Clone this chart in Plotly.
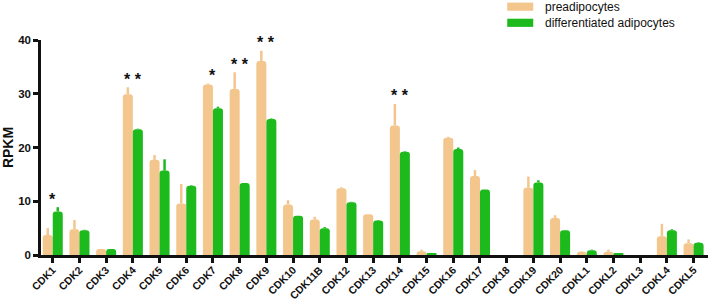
import plotly.graph_objects as go

categories = ["CDK1","CDK2","CDK3","CDK4","CDK5","CDK6","CDK7","CDK8","CDK9","CDK10",
              "CDK11B","CDK12","CDK13","CDK14","CDK15","CDK16","CDK17","CDK18","CDK19","CDK20",
              "CDKL1","CDKL2","CDKL3","CDKL4","CDKL5"]
pre_values = [3.7, 4.8, 1.1, 29.9, 17.7, 9.6, 31.7, 30.9, 36.1, 9.4,
              6.6, 12.4, 7.6, 24.1, 0.7, 21.8, 14.7, 0.0, 12.5, 6.9,
              0.6, 0.6, 0.0, 3.5, 2.2]
pre_errors = [1.3, 1.7, 0.0, 1.3, 0.9, 3.6, 0.2, 3.1, 1.9, 0.8,
              0.5, 0.2, 0.0, 4.0, 0.3, 0.2, 1.1, 0.0, 2.1, 0.5,
              0.1, 0.4, 0.0, 2.3, 0.7]
diff_values = [8.1, 4.6, 1.1, 23.4, 15.7, 12.9, 27.3, 13.4, 25.3, 7.3,
               5.0, 9.8, 6.4, 19.2, 0.2, 19.7, 12.2, 0.0, 13.5, 4.6,
               0.9, 0.3, 0.0, 4.6, 2.3]
diff_errors = [0.8, 0.1, 0.0, 0.1, 2.1, 0.1, 0.3, 0.0, 0.1, 0.0,
               0.2, 0.1, 0.1, 0.1, 0.0, 0.3, 0.0, 0.0, 0.4, 0.0,
               0.1, 0.0, 0.0, 0.2, 0.1]
stars = ["*", "", "", "**", "", "", "*", "**", "**", "",
         "", "", "", "**", "", "", "", "", "", "",
         "", "", "", "", ""]
series_names = ["preadipocytes", "differentiated adipocytes"]
y_ticks = [0, 10, 20, 30, 40]

PRE_COLOR = "#F3C68D"
DIFF_COLOR = "#1CBA1C"
INK = "#111111"

fig = go.Figure()
fig.add_trace(go.Bar(
    x=categories, y=pre_values, name=series_names[0],
    marker=dict(color=PRE_COLOR, line=dict(width=0)),
    error_y=dict(type="data", array=pre_errors, symmetric=False,
                 arrayminus=[0]*len(pre_errors), color=PRE_COLOR,
                 thickness=2.5, width=0),
    showlegend=False))
fig.add_trace(go.Bar(
    x=categories, y=diff_values, name=series_names[1],
    marker=dict(color=DIFF_COLOR, line=dict(width=0)),
    error_y=dict(type="data", array=diff_errors, symmetric=False,
                 arrayminus=[0]*len(diff_errors), color=DIFF_COLOR,
                 thickness=2.5, width=0),
    showlegend=False))

annotations = []
for c, s, p, pe, d, de in zip(categories, stars, pre_values, pre_errors, diff_values, diff_errors):
    if s:
        top = max(p + pe, d + de)
        annotations.append(dict(x=c, y=top + 1.5, text=" ".join(s), showarrow=False,
                                xref="x", yref="y", yanchor="middle",
                                font=dict(family="Arial", size=16, color=INK, weight="bold")))

# custom legend
leg_y = [1.155, 1.080]
for name, col, yy in zip(series_names, [PRE_COLOR, DIFF_COLOR], leg_y):
    fig.add_shape(type="rect", xref="paper", yref="paper",
                  x0=0.699, x1=0.738, y0=yy - 0.019, y1=yy + 0.019,
                  fillcolor=col, line=dict(width=0))
    annotations.append(dict(x=0.752, y=yy, xref="paper", yref="paper", text=name,
                            showarrow=False, xanchor="left", yanchor="middle",
                            font=dict(family="Arial", size=12, color=INK)))

fig.update_layout(
    width=709, height=303,
    margin=dict(l=41, r=1, t=40, b=48),
    paper_bgcolor="white", plot_bgcolor="white",
    barmode="group", bargap=0.25, bargroupgap=0,
    barcornerradius=3,
    annotations=annotations,
    font=dict(family="Arial", color=INK),
)
fig.update_xaxes(
    type="category", range=[-0.44, 24.54], automargin=False,
    showline=True, linecolor=INK, linewidth=2.5,
    ticks="outside", ticklen=5, tickwidth=2.5, tickcolor=INK,
    tickangle=-45, ticklabelstandoff=-3,
    tickfont=dict(family="Arial", size=10.5, color=INK, weight="bold"),
    showgrid=False, zeroline=False,
)
fig.update_yaxes(
    range=[0, 40], tickvals=y_ticks, automargin=False,
    showline=True, linecolor=INK, linewidth=2.5,
    ticks="outside", ticklen=5, tickwidth=2.5, tickcolor=INK,
    tickfont=dict(family="Arial", size=11.5, color=INK, weight="bold"),
    title=dict(text="RPKM", font=dict(family="Arial", size=14, color=INK, weight="bold"), standoff=4),
    showgrid=False, zeroline=False,
)
fig.write_html("out.html", config={"displayModeBar": False},
               post_script="document.body.style.margin='0';document.body.style.overflow='hidden';")
